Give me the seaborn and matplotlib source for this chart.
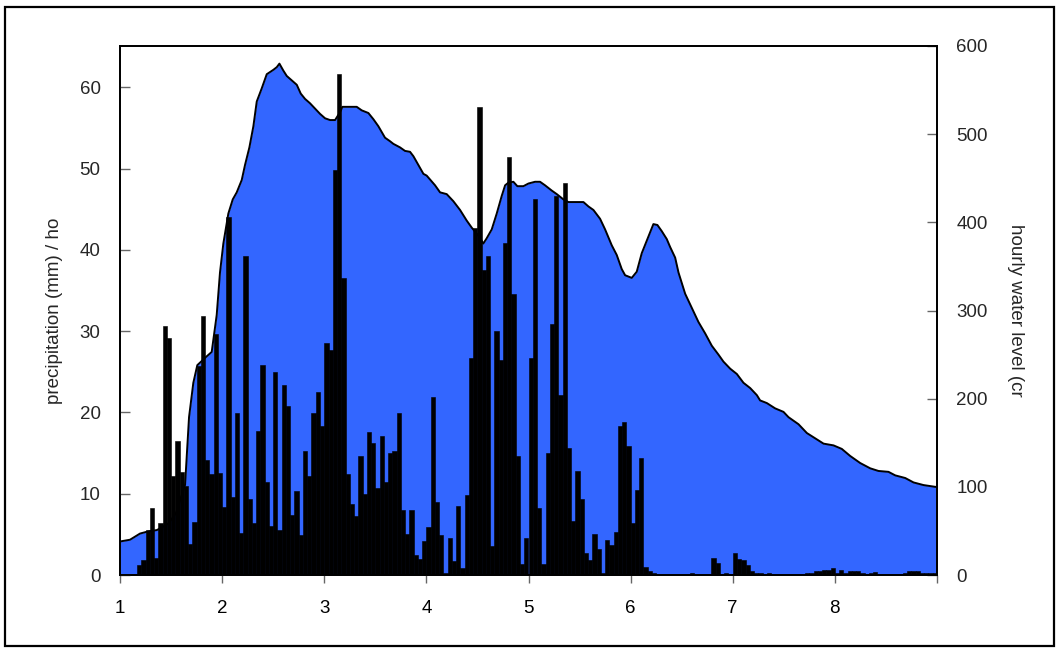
import numpy as np
import pandas as pd
import matplotlib
matplotlib.use("Agg")
import matplotlib.pyplot as plt
from matplotlib.patches import Rectangle
import seaborn as sns

# Hourly precipitation (mm), one list of 24 hourly totals per day
precip_day1 = [0, 0, 0, 0, 1.2, 1.8, 5.5, 8.3, 2.1, 6.4, 30.6, 29.2,
               12.2, 16.5, 12.7, 11.0, 3.8, 6.5, 25.7, 31.9, 14.2, 12.4, 29.7, 12.5]
precip_day2 = [8.4, 44.1, 9.6, 19.9, 5.2, 39.3, 9.4, 6.4, 17.7, 25.9, 11.4, 6.0,
               25.0, 5.5, 23.4, 20.8, 7.4, 10.3, 4.9, 15.3, 12.2, 19.9, 22.5, 18.3]
precip_day3 = [28.5, 27.7, 49.9, 61.7, 36.5, 12.4, 8.7, 7.2, 14.6, 10.0, 17.6, 16.3,
               10.7, 17.1, 11.5, 15.0, 15.3, 19.9, 8.0, 5.0, 8.0, 2.5, 2.0, 4.2]
precip_day4 = [5.9, 21.9, 9.0, 4.9, 0.3, 4.6, 1.7, 8.5, 0.9, 9.9, 26.7, 42.7,
               57.6, 37.5, 39.2, 3.6, 30.0, 26.5, 40.8, 51.4, 34.6, 14.6, 1.4, 4.6]
precip_day5 = [26.7, 46.3, 8.2, 1.4, 15.0, 30.9, 46.6, 22.2, 48.2, 15.6, 6.7, 12.8,
               9.4, 2.7, 1.8, 5.0, 3.2, 0.3, 4.3, 3.7, 5.3, 18.3, 18.8, 15.9]
precip_day6 = [6.4, 10.5, 14.4, 1.0, 0.5, 0.3, 0, 0, 0, 0, 0, 0,
               0, 0, 0.3, 0, 0, 0, 0, 2.1, 1.5, 0, 0.3, 0]
precip_day7 = [2.7, 2.0, 1.9, 1.2, 0.5, 0.3, 0.2, 0.1, 0.3, 0, 0, 0,
               0, 0, 0, 0, 0, 0.3, 0.3, 0.5, 0.5, 0.65, 0.65, 0.8]
precip_day8 = [0.3, 0.6, 0.2, 0.45, 0.45, 0.45, 0.3, 0.1, 0.3, 0.4, 0, 0,
               0, 0, 0, 0, 0.3, 0.45, 0.45, 0.45, 0.3, 0.3, 0.3, 0.3]

# Hourly water level (cm) against time in days
level_day = [1.000, 1.098, 1.196, 1.261, 1.362, 1.470, 1.548, 1.597, 1.637, 1.676,
             1.718, 1.757, 1.849, 1.898, 1.947, 1.979, 2.012, 2.061, 2.104, 2.143,
             2.192, 2.224, 2.267, 2.306, 2.339, 2.388, 2.437, 2.502, 2.535, 2.561,
             2.600, 2.633, 2.682, 2.731, 2.770, 2.812, 2.861, 2.910, 2.959, 3.008,
             3.057, 3.106, 3.155, 3.178, 3.318, 3.367, 3.432, 3.481, 3.530, 3.595,
             3.644, 3.677, 3.742, 3.791, 3.840, 3.873, 3.922, 3.971, 4.003, 4.085,
             4.134, 4.199, 4.264, 4.330, 4.395, 4.444, 4.509, 4.558, 4.591, 4.640,
             4.689, 4.738, 4.771, 4.803, 4.852, 4.891, 4.950, 4.999, 5.064, 5.113,
             5.162, 5.228, 5.277, 5.342, 5.391, 5.538, 5.587, 5.636, 5.701, 5.750,
             5.815, 5.864, 5.913, 5.946, 6.011, 6.060, 6.109, 6.174, 6.223, 6.262,
             6.305, 6.354, 6.387, 6.436, 6.469, 6.534, 6.599, 6.664, 6.730, 6.795,
             6.860, 6.909, 6.975, 7.040, 7.105, 7.171, 7.236, 7.268, 7.334, 7.415,
             7.497, 7.546, 7.644, 7.726, 7.807, 7.889, 7.987, 8.068, 8.150, 8.248,
             8.346, 8.427, 8.525, 8.591, 8.689, 8.770, 8.868, 8.982, 9.000]
level_cm = [38, 40, 47, 49, 51, 58, 70, 88, 102, 179,
            218, 238, 248, 253, 295, 343, 376, 410, 426, 434,
            448, 465, 485, 509, 537, 552, 568, 573, 576, 580,
            572, 566, 561, 556, 546, 540, 535, 529, 523, 518,
            516, 516, 525, 531, 531, 527, 524, 517, 509, 496,
            492, 489, 485, 481, 480, 475, 465, 455, 453, 442,
            434, 432, 424, 414, 402, 394, 385, 376, 382, 392,
            410, 430, 442, 445, 446, 441, 441, 444, 446, 446,
            442, 436, 432, 426, 423, 423, 418, 414, 404, 392,
            374, 363, 347, 340, 337, 344, 365, 384, 398, 397,
            390, 381, 372, 360, 343, 319, 303, 287, 274, 260,
            250, 242, 234, 228, 218, 212, 204, 198, 195, 189,
            185, 179, 171, 161, 155, 149, 147, 143, 135, 127,
            121, 118, 117, 113, 110, 105, 102, 100, 100]

x_tick_labels = ["1", "2", "3", "4", "5", "6", "7", "8", ""]
precip_ticks = [0, 10, 20, 30, 40, 50, 60]
level_ticks = [0, 100, 200, 300, 400, 500, 600]

precip = (precip_day1 + precip_day2 + precip_day3 + precip_day4 +
          precip_day5 + precip_day6 + precip_day7 + precip_day8)
hours = np.arange(len(precip))
rain = pd.DataFrame({"day": 1 + (hours + 0.5) / 24, "mm": precip})
level = pd.DataFrame({"day": level_day, "cm": level_cm})

sns.set_theme(style="white")
plt.rcParams["font.family"] = ["Liberation Sans", "DejaVu Sans"]
plt.rcParams["font.size"] = 13.5

fig = plt.figure(figsize=(10.59, 6.49), dpi=100)
ax = fig.add_axes([120 / 1059, 74 / 649, 817 / 1059, 529 / 649])
ax2 = ax.twinx()

# water level: filled blue area with a black outline (right axis)
ax2.fill_between(level["day"], level["cm"], 0, color="#3366FF", linewidth=0, zorder=1)
sns.lineplot(data=level, x="day", y="cm", color="black", linewidth=1.4, ax=ax2, zorder=2)

# precipitation: black hourly bars (left axis), drawn over the area
sns.histplot(data=rain, x="day", weights="mm", bins=len(precip), binrange=(1, 9),
             stat="count", element="bars", fill=True, color="black", alpha=1,
             edgecolor="black", linewidth=0.4, ax=ax)
ax.set_zorder(ax2.get_zorder() + 1)
ax.patch.set_visible(False)

ax.set_xlim(1, 9)
ax.set_ylim(0, 65.1)
ax2.set_ylim(0, 600)

ax.set_xticks(range(1, 10))
ax.set_xticklabels(x_tick_labels)
ax.set_yticks(precip_ticks)
ax2.set_yticks(level_ticks)

ax.tick_params(axis="x", direction="out", length=6, width=1, color="#666666",
               pad=12, labelsize=13.5, labelcolor="black")
ax.tick_params(axis="y", direction="in", length=7, width=1, color="#666666",
               pad=14, labelsize=13.5)
ax2.tick_params(axis="y", direction="in", length=7, width=1, color="#666666",
                pad=14, labelsize=13.5)
ax.tick_params(axis="y", left=True, right=False)
ax2.tick_params(axis="y", left=False, right=True)
ax.tick_params(axis="x", bottom=True, top=False)

ax.set_xlabel("")
ax.set_ylabel("precipitation (mm) / ho", fontsize=13.5, labelpad=12)
ax2.set_ylabel("hourly water level (cr", fontsize=13.5, rotation=270,
               labelpad=26)

for a in (ax, ax2):
    for s in a.spines.values():
        s.set_color("black")
        s.set_linewidth(1.3)

# frame around the whole figure
fig.add_artist(Rectangle((5 / 1059, 3 / 649), 1049 / 1059, 639 / 649,
                         transform=fig.transFigure, fill=False,
                         edgecolor="black", linewidth=1.6))

fig.savefig("out.png", dpi=100)
